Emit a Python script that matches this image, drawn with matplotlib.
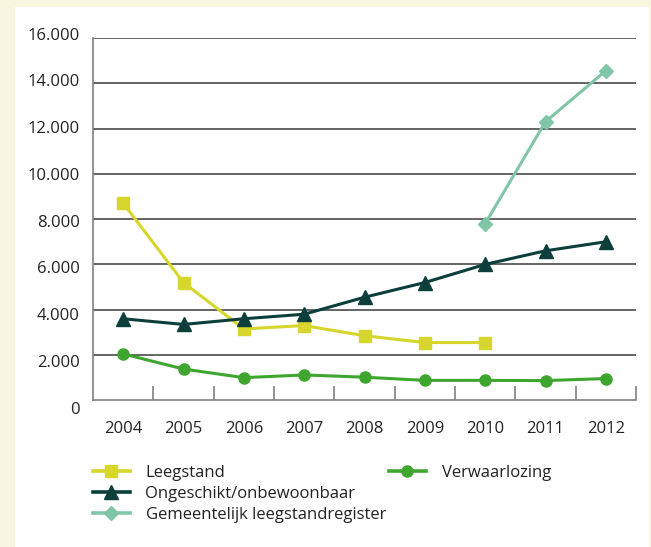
import matplotlib
matplotlib.use("Agg")
import matplotlib.pyplot as plt
from matplotlib.lines import Line2D
from matplotlib.patches import Rectangle
from matplotlib.transforms import ScaledTranslation
import numpy as np

years = ["2004", "2005", "2006", "2007", "2008", "2009", "2010", "2011", "2012"]
leegstand = [8700, 5200, 3150, 3300, 2850, 2550, 2550, None, None]
ongeschikt = [3600, 3350, 3600, 3800, 4550, 5200, 6000, 6600, 7000]
gemeentelijk = [None, None, None, None, None, None, 7800, 12300, 14550]
verwaarlozing = [2050, 1380, 1000, 1120, 1020, 880, 880, 870, 960]
yticks = [0, 2000, 4000, 6000, 8000, 10000, 12000, 14000, 16000]
ylabels = ["0", "2.000", "4.000", "6.000", "8.000", "10.000", "12.000", "14.000", "16.000"]

plt.rcParams['font.family'] = ['Open Sans', 'DejaVu Sans']

W, H = 651, 547
fig = plt.figure(figsize=(W / 100, H / 100), dpi=100)
fig.patch.set_facecolor("#f7f6de")
fig.add_artist(Rectangle((15 / W, 0), (649 - 15) / W, (H - 7) / H,
                         transform=fig.transFigure, facecolor="white",
                         edgecolor="none", zorder=0))

ax = fig.add_axes([93 / W, 1 - 400.3 / H, (636 - 93) / W, (400.3 - 37.9) / H])
ax.set_facecolor("none")

x = np.arange(len(years))

def arr(v):
    return np.array([np.nan if a is None else a for a in v], dtype=float)

c_lee = "#d6d62c"
c_ong = "#0c3f3b"
c_gem = "#80c6a6"
c_ver = "#3ea62e"
txt = "#222222"

ax.plot(x, arr(leegstand), color=c_lee, lw=2.2, marker="s", ms=8, zorder=3)
ax.plot(x, arr(ongeschikt), color=c_ong, lw=2.2, marker="^", ms=10, zorder=3)
ax.plot(x, arr(gemeentelijk), color=c_gem, lw=2.2, marker="D", ms=7.5, zorder=3)
ax.plot(x, arr(verwaarlozing), color=c_ver, lw=2.2, marker="o", ms=8, zorder=3)

ax.set_xlim(-0.5, len(years) - 0.5)
ax.set_ylim(0, 16000)
ax.set_yticks(yticks)
ax.set_yticklabels(ylabels)
ax.set_xticks(x)
ax.set_xticklabels(years)
ax.set_xticks(np.arange(0.5, len(years), 1.0), minor=True)

for yv in yticks[1:]:
    ax.axhline(yv, color="#4a4a4a", lw=1.2, zorder=1)

for s in ["top", "right"]:
    ax.spines[s].set_visible(False)
for s in ["left", "bottom"]:
    ax.spines[s].set_color("#808080")
    ax.spines[s].set_linewidth(1.2)

ax.tick_params(axis="x", which="major", length=0, pad=15, labelsize=12, colors=txt)
ax.tick_params(axis="x", which="minor", length=10, width=1.2, direction="in", color="#808080")
ax.tick_params(axis="y", length=0, pad=9.5, labelsize=12, colors=txt)

# y labels in the reference drift slightly from their gridlines
for v, lab in zip(yticks, ax.get_yticklabels()):
    dy_px = 7.2 - v / 2000 * 1.45
    lab.set_transform(lab.get_transform() + ScaledTranslation(0, -dy_px / 100, fig.dpi_scale_trans))

h_lee = Line2D([], [], color=c_lee, lw=2.6, marker="s", ms=8)
h_ong = Line2D([], [], color=c_ong, lw=2.6, marker="^", ms=10)
h_gem = Line2D([], [], color=c_gem, lw=2.6, marker="D", ms=7.5)
h_ver = Line2D([], [], color=c_ver, lw=2.6, marker="o", ms=8)

common = dict(loc="upper left", frameon=False, fontsize=12, handlelength=2.2,
              handletextpad=0.95, labelspacing=0.29, borderaxespad=0, borderpad=0,
              labelcolor=txt)
leg1 = fig.legend([h_lee, h_ong, h_gem],
                  ["Leegstand", "Ongeschikt/onbewoonbaar", "Gemeentelijk leegstandregister"],
                  bbox_to_anchor=(93 / W, 1 - 465 / H), **common)
leg2 = fig.legend([h_ver], ["Verwaarlozing"],
                  bbox_to_anchor=(389 / W, 1 - 465 / H), **common)

fig.savefig("out.png", dpi=100, facecolor=fig.get_facecolor())
